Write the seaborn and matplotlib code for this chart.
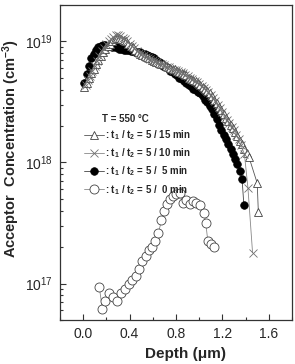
import matplotlib
matplotlib.use("Agg")
import matplotlib.pyplot as plt
import seaborn as sns
from matplotlib.ticker import MultipleLocator, LogLocator, NullFormatter

sns.set_style("ticks")
plt.rcParams['font.family'] = ['Liberation Sans', 'DejaVu Sans']
plt.rcParams['mathtext.fontset'] = 'custom'
plt.rcParams['mathtext.rm'] = 'Liberation Sans'
plt.rcParams['mathtext.bf'] = 'Liberation Sans:bold'
plt.rcParams['mathtext.it'] = 'Liberation Sans:italic'

UNIT = 1e18  # concentrations below are in 1e18 cm^-3

# t1/t2 = 5/15 min (open triangles)
depth_15 = [0.01, 0.03, 0.05, 0.07, 0.09, 0.11, 0.13, 0.15, 0.17, 0.19,
            0.21, 0.23, 0.25, 0.27, 0.29, 0.31, 0.33, 0.35, 0.37, 0.39,
            0.41, 0.43, 0.45, 0.47, 0.49, 0.51, 0.53, 0.55, 0.57, 0.59,
            0.61, 0.63, 0.65, 0.67, 0.69, 0.71, 0.73, 0.75, 0.77, 0.79,
            0.81, 0.83, 0.85, 0.87, 0.89, 0.91, 0.93, 0.95, 0.97, 0.99,
            1.01, 1.03, 1.05, 1.07, 1.09, 1.11, 1.13, 1.15, 1.17, 1.19,
            1.21, 1.23, 1.25, 1.27, 1.29, 1.31, 1.33, 1.35, 1.37, 1.39,
            1.41, 1.43, 1.50, 1.51]
conc_15 = [4.17, 4.57, 5.01, 5.50, 5.89, 6.46, 7.08, 7.59, 8.13, 8.71,
           9.12, 9.55, 10.0, 10.5, 10.7, 10.7, 10.5, 10.2, 10.0, 9.55,
           9.12, 8.91, 8.51, 8.13, 7.94, 7.76, 7.59, 7.41, 7.24, 7.08,
           6.92, 6.76, 6.61, 6.46, 6.46, 6.31, 6.17, 6.03, 5.89, 5.89,
           5.75, 5.62, 5.50, 5.37, 5.25, 5.01, 4.90, 4.79, 4.68, 4.57,
           4.37, 4.17, 4.07, 3.89, 3.72, 3.55, 3.31, 3.09, 2.88, 2.69,
           2.51, 2.34, 2.19, 2.04, 1.91, 1.78, 1.66, 1.51, 1.41, 1.29,
           1.20, 1.10, 0.676, 0.389]

# t1/t2 = 5/10 min (crosses)
depth_10 = [0.02, 0.04, 0.06, 0.08, 0.10, 0.12, 0.14, 0.16, 0.18, 0.20,
            0.22, 0.24, 0.26, 0.28, 0.30, 0.32, 0.34, 0.36, 0.38, 0.40,
            0.42, 0.44, 0.46, 0.48, 0.50, 0.52, 0.54, 0.56, 0.58, 0.60,
            0.62, 0.64, 0.66, 0.68, 0.70, 0.72, 0.74, 0.76, 0.78, 0.80,
            0.82, 0.84, 0.86, 0.88, 0.90, 0.92, 0.94, 0.96, 0.98, 1.00,
            1.02, 1.04, 1.06, 1.08, 1.10, 1.12, 1.14, 1.16, 1.18, 1.20,
            1.22, 1.24, 1.26, 1.28, 1.30, 1.32, 1.34, 1.36, 1.39, 1.42,
            1.46]
conc_10 = [4.4, 4.8, 5.2, 5.75, 6.3, 6.9, 7.6, 8.3, 8.9, 9.5,
           10.0, 10.5, 10.9, 11.2, 11.2, 11.0, 10.7, 10.4, 10.0, 9.5,
           9.2, 8.8, 8.4, 8.1, 7.9, 7.7, 7.5, 7.35, 7.2, 7.0,
           6.85, 6.7, 6.55, 6.45, 6.35, 6.2, 6.1, 5.95, 5.85, 5.8,
           5.7, 5.55, 5.45, 5.3, 5.15, 5.0, 4.85, 4.75, 4.6, 4.45,
           4.3, 4.1, 3.95, 3.8, 3.6, 3.4, 3.2, 3.0, 2.8, 2.6,
           2.4, 2.25, 2.1, 1.95, 1.85, 1.7, 1.55, 1.4, 1.17, 0.62,
           0.18]

# t1/t2 = 5/5 min (filled circles)
depth_5 = [0.01, 0.03, 0.05, 0.07, 0.09, 0.11, 0.13, 0.15, 0.17, 0.19,
           0.21, 0.23, 0.25, 0.27, 0.29, 0.31, 0.33, 0.35, 0.37, 0.39,
           0.41, 0.43, 0.45, 0.47, 0.49, 0.51, 0.53, 0.55, 0.57, 0.59,
           0.61, 0.63, 0.65, 0.67, 0.69, 0.71, 0.73, 0.75, 0.77, 0.79,
           0.81, 0.83, 0.85, 0.87, 0.89, 0.91, 0.93, 0.95, 0.97, 0.99,
           1.01, 1.03, 1.05, 1.07, 1.09, 1.11, 1.13, 1.15, 1.17, 1.19,
           1.21, 1.23, 1.25, 1.27, 1.29, 1.31, 1.33, 1.35, 1.37, 1.385]
conc_5 = [4.57, 5.37, 6.31, 7.24, 7.94, 8.51, 8.91, 9.12, 9.33, 9.33,
          9.12, 9.12, 8.91, 8.91, 8.91, 8.71, 8.71, 8.51, 8.51, 8.51,
          8.32, 8.32, 8.13, 8.13, 8.13, 7.94, 7.94, 7.76, 7.59, 7.41,
          7.24, 7.08, 6.76, 6.61, 6.31, 6.17, 6.03, 5.75, 5.62, 5.37,
          5.25, 5.01, 4.90, 4.68, 4.57, 4.37, 4.27, 4.07, 3.98, 3.80,
          3.72, 3.55, 3.31, 3.16, 2.95, 2.75, 2.51, 2.29, 2.04, 1.86,
          1.70, 1.55, 1.41, 1.29, 1.17, 1.07, 0.977, 0.851, 0.724, 0.447]

# t1/t2 = 5/0 min (open circles)
depth_0 = [0.139, 0.165, 0.19, 0.225, 0.26, 0.294, 0.329, 0.364, 0.398, 0.424,
           0.459, 0.485, 0.511, 0.545, 0.571, 0.597, 0.623, 0.649, 0.675, 0.693,
           0.719, 0.745, 0.771, 0.797, 0.831, 0.857, 0.883, 0.918, 0.944, 0.970,
           1.004, 1.039, 1.056, 1.074, 1.10, 1.125]
conc_0 = [0.093, 0.062, 0.072, 0.083, 0.078, 0.072, 0.084, 0.091, 0.100, 0.106,
          0.116, 0.133, 0.155, 0.170, 0.188, 0.202, 0.226, 0.264, 0.332, 0.401,
          0.458, 0.504, 0.524, 0.545, 0.555, 0.467, 0.494, 0.458, 0.485, 0.467,
          0.442, 0.386, 0.319, 0.226, 0.214, 0.202]

labels = [r": $\mathbf{t_1}$ / $\mathbf{t_2}$ = 5 / 15 min",
          r": $\mathbf{t_1}$ / $\mathbf{t_2}$ = 5 / 10 min",
          r": $\mathbf{t_1}$ / $\mathbf{t_2}$ = 5 /  5 min",
          r": $\mathbf{t_1}$ / $\mathbf{t_2}$ = 5 /  0 min"]

fig = plt.figure(figsize=(2.95, 3.64), dpi=100)
ax = fig.add_axes([0.2034, 0.1209, 0.7864, 0.8654])

line_kw = dict(sort=False, estimator=None, linewidth=0.6, ax=ax)
sns.lineplot(x=depth_5, y=[c * UNIT for c in conc_5], marker='o', markersize=5.5,
             color='#444444', markerfacecolor='black', markeredgecolor='black',
             markeredgewidth=0.5, label=labels[2], zorder=2, **line_kw)
sns.lineplot(x=depth_15, y=[c * UNIT for c in conc_15], marker='^', markersize=6,
             color='#555555', markerfacecolor='white', markeredgecolor='#404040',
             markeredgewidth=0.6, label=labels[0], zorder=3, **line_kw)
sns.lineplot(x=depth_10, y=[c * UNIT for c in conc_10], marker='x', markersize=5.5,
             color='#888888', markeredgecolor='#707070',
             markeredgewidth=0.6, label=labels[1], zorder=4, **line_kw)
sns.lineplot(x=depth_0, y=[c * UNIT for c in conc_0], marker='o', markersize=6.5,
             color='#888888', markerfacecolor='white', markeredgecolor='#444444',
             markeredgewidth=0.6, label=labels[3], zorder=5, **line_kw)

ax.set_yscale('log')
ax.set_xlim(-0.2, 1.8)
ax.set_ylim(5e16, 2e19)
ax.xaxis.set_major_locator(MultipleLocator(0.4))
ax.xaxis.set_minor_locator(MultipleLocator(0.2))
ax.yaxis.set_major_locator(LogLocator(base=10))
ax.yaxis.set_minor_locator(LogLocator(base=10, subs=range(2, 10)))
ax.yaxis.set_minor_formatter(NullFormatter())
ax.xaxis.set_major_formatter(matplotlib.ticker.FormatStrFormatter('%.1f'))
ax.tick_params(which='both', direction='in', top=False, right=False,
               labelsize=10, color='#333333', width=0.8)
ax.tick_params(which='major', length=4, pad=5)
ax.tick_params(which='minor', length=2.5)
for sp in ax.spines.values():
    sp.set_visible(True)
    sp.set_linewidth(0.9)
    sp.set_color('#333333')

ax.set_xlabel(u"Depth (\u03bcm)", fontsize=11, fontweight='bold')
ax.set_ylabel(r"Acceptor  Concentration (cm$^{\mathbf{-3}}$)", fontsize=10.5,
              fontweight='bold')
ax.xaxis.set_label_coords(0.54, -0.085)
ax.yaxis.set_label_coords(-0.165, 0.545)

handles, labs = ax.get_legend_handles_labels()
order = [labs.index(l) for l in labels]
ax.legend([handles[i] for i in order], [labs[i] for i in order],
          loc='upper left', bbox_to_anchor=(0.075, 0.63), frameon=False,
          prop={'weight': 'bold', 'size': 7}, handlelength=2.0,
          handletextpad=0.15, labelspacing=0.45, borderpad=0.2)
ax.text(0.18, 0.638, u"T = 550 \u00b0C", transform=ax.transAxes,
        fontsize=7, fontweight='bold', va='center', ha='left')

fig.savefig("out.png", dpi=100)
